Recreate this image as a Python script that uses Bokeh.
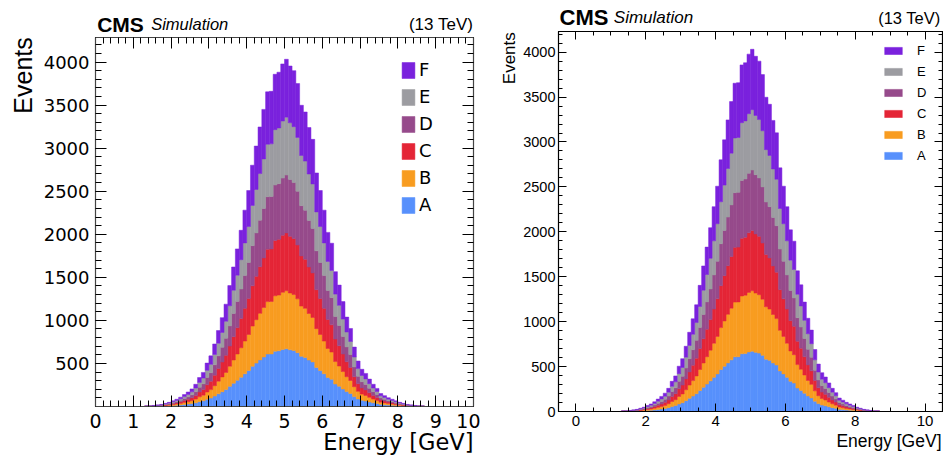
import math
from bokeh.plotting import figure
from bokeh.models import (FixedTicker, LinearAxis, Legend, LegendItem,
                          ColumnDataSource, Range1d)
from bokeh.embed import file_html
from bokeh.resources import INLINE
from bokeh.core.properties import value

# ---------------- data ----------------
components = ["A", "B", "C", "D", "E", "F"]
colors = ["#5790fc", "#f89c20", "#e42536", "#964a8b", "#9c9ca1", "#7a21dd"]

bin_width = 0.1
bin_centers = [round(0.05 + 0.1 * i, 2) for i in range(100)]

# events per 0.1 GeV bin for one component (bins 0.0-0.1 ... 9.9-10.0)
counts_A = [0, 0, 0, 0, 0, 0, 0, 0, 0, 0,
            0, 0, 0, 1, 1, 2, 3, 4, 6, 8,
            11, 14, 18, 23, 28, 34, 43, 56, 66, 84,
            98, 121, 147, 172, 198, 234, 270, 305, 341, 380,
            418, 467, 504, 541, 575, 609, 610, 643, 647, 663,
            672, 659, 650, 625, 583, 570, 540, 517, 452, 418,
            380, 337, 316, 261, 235, 203, 173, 151, 115, 88,
            72, 64, 53, 43, 35, 25, 21, 17, 14, 11,
            8, 6, 4, 3, 2, 1, 1, 0, 0, 0,
            0, 0, 0, 0, 0, 0, 0, 0, 0, 0]
counts_B = list(counts_A)
counts_C = list(counts_A)
counts_D = list(counts_A)
counts_E = list(counts_A)
counts_F = list(counts_A)

left_xticks = [0, 1, 2, 3, 4, 5, 6, 7, 8, 9, 10]
left_yticks = [500, 1000, 1500, 2000, 2500, 3000, 3500, 4000]
right_xticks = [0, 2, 4, 6, 8, 10]
right_yticks = [0, 500, 1000, 1500, 2000, 2500, 3000, 3500, 4000]

x_title = "Energy [GeV]"
y_title = "Events"
header_bold = "CMS"
header_italic = "Simulation"
header_right = "(13 TeV)"

source = ColumnDataSource(dict(x=bin_centers, A=counts_A, B=counts_B, C=counts_C,
                               D=counts_D, E=counts_E, F=counts_F))


def make_panel(width, height, mb, xr, yr, xticks, xminor, yticks, yminor,
               tick_font, xtick_size, ytick_size, maj, mnr, xstand, ystand, frame_col, left):
    p = figure(width=width, height=height, output_backend="svg", toolbar_location=None,
               x_range=Range1d(*xr), y_range=Range1d(*yr),
               min_border_left=mb[0], min_border_right=mb[1],
               min_border_top=mb[2], min_border_bottom=mb[3])
    p.styles = {"position": "absolute", "left": f"{left}px", "top": "0px"}
    p.xgrid.visible = False
    p.ygrid.visible = False
    p.outline_line_color = frame_col
    p.outline_line_width = 1.2
    p.background_fill_color = "white"
    p.border_fill_color = "white"
    renderers = p.vbar_stack(components, x="x", width=bin_width, source=source,
                             fill_color=colors, line_color=colors, line_width=0.5)
    xt = FixedTicker(ticks=xticks, minor_ticks=xminor)
    yt = FixedTicker(ticks=yticks, minor_ticks=yminor)
    for ax, tk, fs, st in ((p.xaxis[0], xt, xtick_size, xstand), (p.yaxis[0], yt, ytick_size, ystand)):
        ax.ticker = tk
        ax.major_tick_in = maj
        ax.major_tick_out = 0
        ax.minor_tick_in = mnr
        ax.minor_tick_out = 0
        ax.axis_line_color = frame_col
        ax.major_tick_line_color = "black"
        ax.minor_tick_line_color = "black"
        ax.major_label_text_font = tick_font
        ax.major_label_text_font_size = fs
        ax.major_label_text_color = "black"
        ax.major_label_standoff = st
    for side, tk in (("above", xt), ("right", yt)):
        ax = LinearAxis(ticker=tk, major_tick_in=maj, major_tick_out=0,
                        minor_tick_in=mnr, minor_tick_out=0,
                        major_label_text_font_size="1px", major_label_text_alpha=0,
                        major_label_standoff=0, axis_line_color=frame_col,
                        major_tick_line_color="black", minor_tick_line_color="black")
        p.add_layout(ax, side)
    return p, renderers


# ---------------- left panel ----------------
p1, r1 = make_panel(480, 457, (95, 7, 37, 51), (0, 10), (0, 4285),
                    left_xticks, [round(0.2 * i, 1) for i in range(51)],
                    left_yticks, list(range(100, 4300, 100)),
                    "DejaVu Sans", "19px", "18px", 11, 6, 7, 6, "#444444", 0)
items1 = [LegendItem(label=n, renderers=[r]) for n, r in reversed(list(zip(components, r1)))]
leg1 = Legend(items=items1, location=(305, 191), glyph_width=16, glyph_height=20,
              label_height=20, spacing=6, padding=0, margin=0, label_standoff=3,
              border_line_color=None, background_fill_alpha=0,
              label_text_font="DejaVu Sans", label_text_font_size="18px",
              label_text_color="black")
p1.add_layout(leg1)

# ---------------- right panel ----------------
p2, r2 = make_panel(463, 457, (78, 1, 31, 46), (-0.5, 10.5), (0, 4230),
                    right_xticks, [round(-0.5 + 0.5 * i, 1) for i in range(23)],
                    right_yticks, list(range(100, 4300, 100)),
                    "Liberation Sans", "15px", "14.5px", 8, 4, 4, 3, "black", 480)
items2 = [LegendItem(label=n, renderers=[r]) for n, r in reversed(list(zip(components, r2)))]
leg2 = Legend(items=items2, location=(324, 248), glyph_width=22, glyph_height=9,
              label_height=9, spacing=6, padding=0, margin=0, label_standoff=13,
              border_line_color=None, background_fill_alpha=0,
              label_text_font="Liberation Sans", label_text_font_size="13px",
              label_text_color="black")
p2.add_layout(leg2)

# ---------------- overlay for texts outside the axes frames (page pixels) ----------------
ov = figure(width=943, height=457, output_backend="svg", toolbar_location=None,
            x_range=Range1d(0, 943), y_range=Range1d(457, 0),
            x_axis_type=None, y_axis_type=None,
            min_border_left=0, min_border_right=0, min_border_top=0, min_border_bottom=0)
ov.styles = {"position": "absolute", "left": "0px", "top": "0px", "pointer-events": "none"}
ov.grid.visible = False
ov.outline_line_color = None
ov.background_fill_alpha = 0
ov.border_fill_alpha = 0


def txt(x, y, t, font, size, style="normal", align="left", angle=0.0):
    ov.text(x=[x], y=[y], text=[t], text_font=value(font), text_font_size=value(size),
            text_font_style=value(style), text_align=value(align),
            text_baseline=value("alphabetic"), angle=angle, text_color="black")


# left panel
txt(96.7, 23.5, header_bold, "Liberation Sans", "21px", style="bold")
txt(150.7, 23.5, header_italic, "Liberation Sans", "16.5px", style="italic")
txt(472.7, 23.5, header_right, "Liberation Sans", "17px", align="right")
txt(22, 36.7, y_title, "Liberation Sans", "25px", align="right", angle=math.pi / 2)
txt(473, 441.5, x_title, "DejaVu Sans", "22.5px", align="right")
# right panel
txt(559, 17, header_bold, "Liberation Sans", "22px", style="bold")
txt(613.3, 17, header_italic, "Liberation Sans", "17px", style="italic")
txt(940, 17, header_right, "Liberation Sans", "16.5px", align="right")
txt(508.5, 31.7, y_title, "Liberation Sans", "17px", align="right", angle=math.pi / 2)
txt(941, 440, x_title, "Liberation Sans", "17.5px", align="right")

open("out.html", "w").write(file_html([p1, p2, ov], INLINE))
